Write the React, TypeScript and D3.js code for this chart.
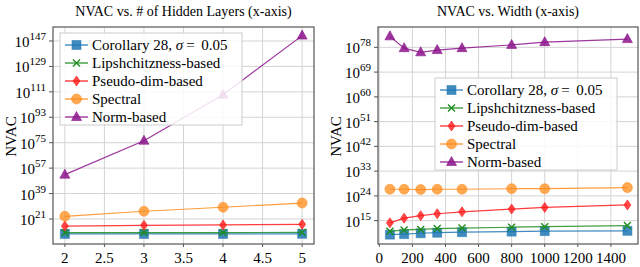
import React, { useEffect, useRef } from "react";
import * as d3 from "d3";

// values are log10(NVAC)
const layers = [2, 3, 4, 5];
const corollaryLayers = [10.4, 10.4, 10.4, 10.5];
const lipschitzLayers = [11.3, 11.4, 11.4, 11.5];
const pseudoLayers = [16.0, 16.5, 16.8, 17.2];
const spectralLayers = [22.9, 26.5, 29.3, 32.3];
const normLayers = [52.4, 76.4, 109.0, 150.8];

const widths = [64, 150, 250, 350, 500, 800, 1000, 1500];
const corollaryWidth = [9.9, 10.1, 10.4, 10.6, 10.8, 11.0, 11.2, 11.3];
const lipschitzWidth = [11.1, 11.6, 11.8, 12.1, 12.3, 12.6, 12.8, 13.2];
const pseudoWidth = [14.2, 15.9, 16.8, 17.5, 18.2, 19.2, 19.8, 20.7];
const spectralWidth = [26.4, 26.4, 26.3, 26.4, 26.4, 26.6, 26.6, 27.0];
const normWidth = [82.0, 77.7, 76.2, 77.0, 77.7, 78.9, 79.9, 81.0];

const layerTicksX = [2, 2.5, 3, 3.5, 4, 4.5, 5];
const layerTicksY = [21, 39, 57, 75, 93, 111, 129, 147];
const widthTicksX = [0, 200, 400, 600, 800, 1000, 1200, 1400];
const widthTicksY = [15, 24, 33, 42, 51, 60, 69, 78];

const seriesNames = ["Corollary 28, σ = 0.05", "Lipshchitzness-based", "Pseudo-dim-based", "Spectral", "Norm-based"];
const seriesColors = ["#1f77b4", "#1e8c1e", "#ff1a1a", "#ff8c1a", "#8c148c"];
const markerKinds = ["square", "cross", "diamond", "circle", "triangle"];

const FONT = "'Liberation Serif', serif";

function drawMarker(g: any, kind: string, x: number, y: number, color: string) {
  if (kind === "square") {
    g.append("rect").attr("x", x - 4.5).attr("y", y - 4.5).attr("width", 9).attr("height", 9)
      .attr("fill", color).attr("fill-opacity", 0.85).attr("stroke", color).attr("stroke-opacity", 0.5);
  } else if (kind === "cross") {
    g.append("path").attr("d", `M${x - 3.5},${y - 3.5}L${x + 3.5},${y + 3.5}M${x - 3.5},${y + 3.5}L${x + 3.5},${y - 3.5}`)
      .attr("stroke", color).attr("stroke-width", 1.4).attr("fill", "none");
  } else if (kind === "diamond") {
    g.append("path").attr("d", `M${x},${y - 5}L${x + 3.5},${y}L${x},${y + 5}L${x - 3.5},${y}Z`)
      .attr("fill", color).attr("fill-opacity", 0.8).attr("stroke", color).attr("stroke-opacity", 0.6);
  } else if (kind === "circle") {
    g.append("circle").attr("cx", x).attr("cy", y).attr("r", 5)
      .attr("fill", color).attr("fill-opacity", 0.75).attr("stroke", color).attr("stroke-opacity", 0.5);
  } else {
    g.append("path").attr("d", `M${x},${y - 5.5}L${x + 5},${y + 3.5}L${x - 5},${y + 3.5}Z`)
      .attr("fill", color).attr("fill-opacity", 0.85).attr("stroke", color).attr("stroke-opacity", 0.6);
  }
}

function drawPanel(svg: any, opts: any) {
  const { left, right, top, bottom, xDomain, yDomain, xTicks, yTicks, xs, series, title, legend } = opts;
  const x = d3.scaleLinear().domain(xDomain).range([left, right]);
  const y = d3.scaleLinear().domain(yDomain).range([bottom, top]);
  const g = svg.append("g");

  // grid
  g.selectAll(".gx").data(xTicks).join("line")
    .attr("x1", (d: number) => x(d)).attr("x2", (d: number) => x(d)).attr("y1", top).attr("y2", bottom)
    .attr("stroke", "#d4d4d4").attr("stroke-width", 1);
  g.selectAll(".gy").data(yTicks).join("line")
    .attr("y1", (d: number) => y(d)).attr("y2", (d: number) => y(d)).attr("x1", left).attr("x2", right)
    .attr("stroke", "#d4d4d4").attr("stroke-width", 1);

  // tick marks
  g.selectAll(".ty").data(yTicks).join("line")
    .attr("y1", (d: number) => y(d)).attr("y2", (d: number) => y(d)).attr("x1", left - 4).attr("x2", left)
    .attr("stroke", "#555");
  g.selectAll(".tx").data(xTicks).join("line")
    .attr("x1", (d: number) => x(d)).attr("x2", (d: number) => x(d)).attr("y1", bottom).attr("y2", bottom + 3)
    .attr("stroke", "#555");

  // series
  series.forEach((vals: number[], i: number) => {
    const line = d3.line<number>().x((_, j) => x(xs[j])).y(d => y(d));
    g.append("path").attr("d", line(vals)).attr("fill", "none")
      .attr("stroke", seriesColors[i]).attr("stroke-width", 1.2).attr("stroke-opacity", 0.85);
    vals.forEach((v, j) => drawMarker(g, markerKinds[i], x(xs[j]), y(v), seriesColors[i]));
  });

  // frame
  g.append("rect").attr("x", left).attr("y", top).attr("width", right - left).attr("height", bottom - top)
    .attr("fill", "none").attr("stroke", "#555").attr("stroke-width", 1.2);

  // tick labels
  g.selectAll(".lx").data(xTicks).join("text")
    .attr("x", (d: number) => x(d)).attr("y", bottom + 19).attr("text-anchor", "middle")
    .attr("font-family", FONT).attr("font-size", 15).text((d: number) => String(d));
  yTicks.forEach((d: number) => {
    const t = g.append("text").attr("x", left - 7).attr("y", y(d) + 6).attr("text-anchor", "end")
      .attr("font-family", FONT).attr("font-size", 15);
    t.append("tspan").text("10");
    t.append("tspan").attr("dy", -7).attr("font-size", 11).text(String(d));
  });

  // title and y label
  g.append("text").attr("x", (left + right) / 2).attr("y", 16).attr("text-anchor", "middle")
    .attr("font-family", FONT).attr("font-size", 14).text(title);
  g.append("text").attr("transform", `translate(${left - 37},${(top + bottom) / 2 + 1}) rotate(-90)`)
    .attr("text-anchor", "middle").attr("font-family", FONT).attr("font-size", 15).text("NVAC");

  // legend
  const lg = g.append("g");
  lg.append("rect").attr("x", legend.x).attr("y", legend.y).attr("width", 182).attr("height", 92)
    .attr("fill", "white").attr("fill-opacity", 0.85).attr("stroke", "#cccccc");
  seriesNames.forEach((name, i) => {
    const cy = legend.y + 12 + i * 18;
    lg.append("line").attr("x1", legend.x + 5).attr("x2", legend.x + 28).attr("y1", cy).attr("y2", cy)
      .attr("stroke", seriesColors[i]).attr("stroke-width", 1.2);
    drawMarker(lg, markerKinds[i], legend.x + 16.5, cy, seriesColors[i]);
    const t = lg.append("text").attr("x", legend.x + 32).attr("y", cy + 5)
      .attr("font-family", FONT).attr("font-size", 15);
    if (i === 0) {
      t.append("tspan").text("Corollary 28, ");
      t.append("tspan").attr("font-style", "italic").text("σ");
      t.append("tspan").text("\u2009=\u2009 0.05");
    } else {
      t.text(name);
    }
  });
}

const App: React.FC = () => {
  const ref = useRef<SVGSVGElement | null>(null);

  useEffect(() => {
    const svg = d3.select(ref.current);
    svg.selectAll("*").remove();

    drawPanel(svg, {
      left: 53, right: 314, top: 27, bottom: 244,
      xDomain: [1.85, 5.15], yDomain: [3.3, 156.9],
      xTicks: layerTicksX, yTicks: layerTicksY, xs: layers,
      series: [corollaryLayers, lipschitzLayers, pseudoLayers, spectralLayers, normLayers],
      title: "NVAC vs. # of Hidden Layers (x-axis)",
      legend: { x: 60, y: 33 },
    });

    drawPanel(svg, {
      left: 378, right: 638, top: 27, bottom: 244,
      xDomain: [-8, 1564], yDomain: [6.5, 85.4],
      xTicks: widthTicksX, yTicks: widthTicksY, xs: widths,
      series: [corollaryWidth, lipschitzWidth, pseudoWidth, spectralWidth, normWidth],
      title: "NVAC vs. Width (x-axis)",
      legend: { x: 435, y: 78 },
    });
  }, []);

  return (
    <svg ref={ref} width={640} height={267}
      style={{ position: "absolute", left: 0, top: 0, background: "white" }} />
  );
};

export default App;
